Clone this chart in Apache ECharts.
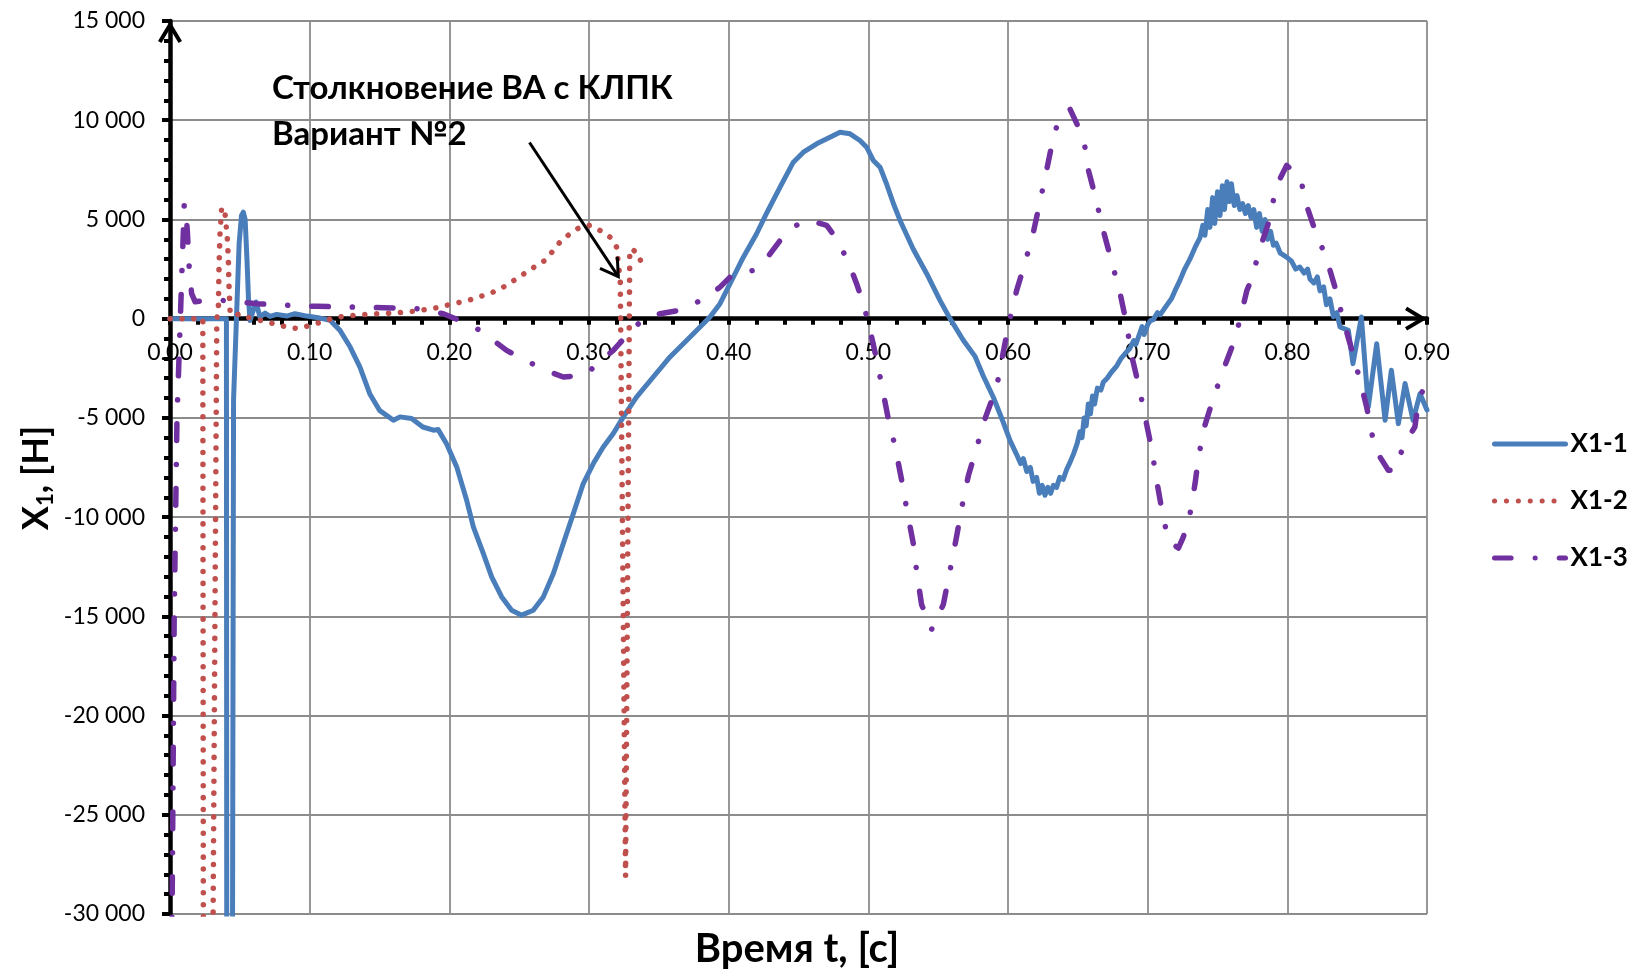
<!DOCTYPE html>
<html>
<head>
<meta charset="utf-8">
<script src="https://cdn.jsdelivr.net/npm/echarts@6/dist/echarts.min.js"></script>
<style>html,body{margin:0;padding:0;background:#fff}#c{width:1631px;height:969px}</style>
</head>
<body>
<div id="c"></div>
<script>
// ---- data (time t [s], force X1 [N]) ----
var seriesNames = ['X1-1', 'X1-2', 'X1-3'];
var xTicks = [0, 0.1, 0.2, 0.3, 0.4, 0.5, 0.6, 0.7, 0.8, 0.9];
var yTicks = [-30000, -25000, -20000, -15000, -10000, -5000, 0, 5000, 10000, 15000];

var X1_1 = [[0,0],[0.0404,0],[0.0407,-40000],[0.0445,-40000],[0.0455,-4100],[0.0495,3800],[0.0512,5200],[0.0525,5370],[0.0538,5000],[0.0551,3000],[0.0562,1000],[0.0573,-90],[0.0616,840],[0.0644,80],[0.068,280],[0.0716,115],[0.0764,215],[0.0835,130],[0.0895,250],[0.0979,130],[0.1074,30],[0.1146,-85],[0.1217,-590],[0.129,-1430],[0.136,-2440],[0.143,-3780],[0.150,-4620],[0.160,-5120],[0.1647,-4950],[0.173,-5035],[0.181,-5460],[0.1886,-5620],[0.192,-5590],[0.198,-6300],[0.2053,-7470],[0.2124,-9150],[0.2172,-10490],[0.2243,-11830],[0.2303,-13010],[0.2375,-14020],[0.2446,-14690],[0.2518,-14940],[0.2601,-14690],[0.2673,-14020],[0.2745,-12840],[0.2816,-11330],[0.2888,-9820],[0.2959,-8310],[0.3031,-7300],[0.3102,-6465],[0.3174,-5790],[0.3246,-4950],[0.334,-3950],[0.346,-2940],[0.358,-1930],[0.3747,-755],[0.3866,80],[0.3938,755],[0.401,1760],[0.4105,3100],[0.42,4280],[0.427,5290],[0.4368,6630],[0.4463,7885],[0.4535,8390],[0.463,8810],[0.4725,9140],[0.4797,9395],[0.4869,9315],[0.494,8980],[0.4988,8640],[0.5036,7970],[0.5084,7635],[0.513,6800],[0.518,5790],[0.5227,4950],[0.5322,3500],[0.5418,2265],[0.5513,920],[0.5585,0],[0.568,-1090],[0.5764,-1900],[0.5823,-2890],[0.5895,-3960],[0.5966,-5220],[0.6014,-6130],[0.6062,-6850],[0.609,-7300],[0.611,-7050],[0.6134,-7700],[0.616,-7500],[0.618,-8200],[0.6205,-8000],[0.6225,-8800],[0.6245,-8400],[0.6265,-8900],[0.6285,-8500],[0.6305,-8800],[0.6325,-8400],[0.6348,-8500],[0.637,-8000],[0.6395,-8100],[0.642,-7600],[0.6444,-7240],[0.647,-6800],[0.6495,-6300],[0.6515,-5700],[0.653,-6000],[0.6545,-5000],[0.656,-5400],[0.6575,-4300],[0.659,-4800],[0.6605,-3900],[0.662,-4300],[0.664,-3500],[0.6665,-3600],[0.6682,-3200],[0.671,-3000],[0.674,-2700],[0.6778,-2390],[0.681,-2000],[0.684,-1750],[0.6873,-1490],[0.69,-1100],[0.6915,-1300],[0.6945,-700],[0.696,-400],[0.6975,-800],[0.70,-300],[0.702,-100],[0.704,-50],[0.707,300],[0.709,200],[0.7136,670],[0.717,1000],[0.7195,1400],[0.7231,1930],[0.7265,2500],[0.7303,3010],[0.734,3600],[0.7375,4090],[0.7395,4700],[0.741,4200],[0.743,5500],[0.7446,4600],[0.7465,6100],[0.748,4800],[0.75,6400],[0.7518,5200],[0.7535,6700],[0.755,5500],[0.7568,6900],[0.7585,5900],[0.76,6800],[0.762,5700],[0.764,6200],[0.766,5500],[0.768,5800],[0.77,5300],[0.772,5700],[0.774,5100],[0.776,5500],[0.778,4600],[0.78,5300],[0.782,4400],[0.784,5000],[0.786,4000],[0.788,4400],[0.79,3700],[0.792,3800],[0.795,3300],[0.7995,3100],[0.803,2900],[0.806,2500],[0.809,2600],[0.812,2300],[0.8145,2500],[0.8162,2000],[0.819,1800],[0.8215,2100],[0.8234,1400],[0.826,1600],[0.828,700],[0.8305,1000],[0.833,100],[0.8355,300],[0.8377,-420],[0.8437,-590],[0.847,-2265],[0.853,80],[0.858,-4450],[0.864,-1260],[0.87,-5120],[0.8745,-2600],[0.8795,-5290],[0.8843,-3270],[0.89,-5120],[0.895,-3780],[0.9,-4600]];

var X1_2 = [[0,0],[0.0235,0],[0.024,-40000],[0.03,-40000],[0.0335,0],[0.0346,420],[0.0351,2600],[0.0358,4280],[0.037,5620],[0.0394,5300],[0.041,4110],[0.0418,2935],[0.0422,1760],[0.043,420],[0.045,130],[0.0501,250],[0.0548,80],[0.0644,-85],[0.074,-250],[0.0835,-420],[0.0919,-500],[0.1002,-340],[0.1086,-170],[0.1158,0],[0.124,115],[0.1325,170],[0.141,215],[0.149,250],[0.1575,280],[0.166,315],[0.174,370],[0.1826,455],[0.1897,535],[0.198,670],[0.2053,790],[0.2136,920],[0.2207,1090],[0.229,1260],[0.235,1460],[0.241,1675],[0.248,2010],[0.2554,2350],[0.2625,2680],[0.2685,2935],[0.2745,3440],[0.2792,3860],[0.2864,4280],[0.2935,4610],[0.3007,4700],[0.3079,4445],[0.315,4110],[0.3198,3600],[0.3224,1900],[0.3262,-28100],[0.3292,3500],[0.3318,3450],[0.3353,3270],[0.3376,2770]];

var X1_3 = [[0.0005,-42000],[0.0015,-30000],[0.003,-15000],[0.005,-5000],[0.0072,-420],[0.0084,2100],[0.0095,4280],[0.0102,5790],[0.0115,5300],[0.0125,4300],[0.0138,2500],[0.0155,1260],[0.018,850],[0.031,960],[0.043,890],[0.062,755],[0.0859,670],[0.105,620],[0.129,585],[0.153,550],[0.1766,500],[0.1957,250],[0.21,-170],[0.222,-590],[0.241,-1600],[0.2566,-2180],[0.272,-2690],[0.2816,-2940],[0.297,-2850],[0.3102,-2010],[0.3174,-1600],[0.3282,-755],[0.339,0],[0.3508,250],[0.3675,455],[0.3843,1090],[0.3938,1590],[0.4034,2265],[0.4177,2430],[0.427,3020],[0.4368,3940],[0.444,4530],[0.4558,4985],[0.4702,4700],[0.4773,4030],[0.4857,2850],[0.4916,1760],[0.4952,1010],[0.5,-170],[0.5048,-1700],[0.5096,-3340],[0.5143,-5050],[0.519,-6400],[0.5238,-8110],[0.5274,-9550],[0.5322,-11340],[0.5345,-12690],[0.5381,-14400],[0.5453,-15660],[0.5537,-14400],[0.5585,-12690],[0.5632,-10980],[0.5668,-9550],[0.5716,-7920],[0.5776,-6490],[0.5835,-5050],[0.5919,-3430],[0.6002,-370],[0.6062,1425],[0.612,2770],[0.618,4300],[0.6229,5890],[0.6277,7500],[0.6324,9120],[0.636,9930],[0.6444,10560],[0.6515,9480],[0.655,8675],[0.6575,7500],[0.6622,6240],[0.6682,4450],[0.673,3190],[0.6802,1300],[0.6837,130],[0.686,-770],[0.6885,-1850],[0.6945,-3650],[0.698,-4900],[0.7028,-6530],[0.7064,-8140],[0.71,-9580],[0.7148,-11200],[0.722,-11560],[0.7255,-11010],[0.7303,-9850],[0.7339,-8320],[0.7363,-7060],[0.7399,-5620],[0.747,-4010],[0.7542,-2570],[0.7625,-1035],[0.7673,310],[0.7709,1390],[0.7745,2020],[0.7804,3540],[0.7864,4800],[0.7923,6700],[0.7995,7720],[0.8067,7300],[0.8103,6800],[0.8138,5700],[0.8198,4450],[0.8281,3020],[0.8341,1590],[0.8401,-85],[0.8449,-1260],[0.852,-3100],[0.8568,-4450],[0.8615,-6130],[0.8663,-6970],[0.8723,-7640],[0.877,-7640],[0.8806,-6880],[0.8854,-6130],[0.8913,-5460],[0.8937,-4280],[0.8986,-3270]];

var annotationText = 'Столкновение ВА с КЛПК\nВариант №2';
var xAxisTitle = 'Время t, [с]';

// ---- chart ----
var FONT = 'Lato';
var chevron = 'path://M0 20 L12 0 L24 20 L20.6 22.1 L12 7.8 L3.4 22.1 Z';
var GRID = {left: 170, right: 204, top: 21, bottom: 55};
function fmtY(v) {
  var s = Math.abs(v).toString().replace(/\B(?=(\d{3})+(?!\d))/g, ' ');
  return (v < 0 ? '-' : '') + s;
}
var chart = echarts.init(document.getElementById('c'), null, {renderer: 'canvas'});
var gridLine = {show: true, lineStyle: {color: '#8c8c8c', width: 1.8}};
var xMin = xTicks[0], xMax = xTicks[xTicks.length - 1];
var yMin = yTicks[0], yMax = yTicks[yTicks.length - 1];
// distance from the bottom of the plot to the zero line, so the tick labels sit under the zero axis
var plotH = 969 - GRID.top - GRID.bottom;
var zeroOffset = plotH * (0 - yMin) / (yMax - yMin);

chart.setOption({
  animation: false,
  backgroundColor: '#fff',
  grid: {left: GRID.left, right: GRID.right, top: GRID.top, bottom: GRID.bottom, outerBoundsMode: 'none'},
  legend: {
    orient: 'vertical', left: 1492, top: 431, padding: 0,
    itemWidth: 71, itemHeight: 24, itemGap: 31,
    data: seriesNames,
    lineStyle: {width: 5},
    itemStyle: {opacity: 0, borderWidth: 0},
    textStyle: {fontFamily: FONT, fontWeight: 'bold', fontSize: 26, color: '#000', lineHeight: 24}
  },
  xAxis: [{
    type: 'value', min: xMin, max: xMax, interval: 0.1,
    axisLine: {show: true, onZero: true, lineStyle: {color: '#000', width: 4.5},
      symbol: ['none', chevron], symbolSize: [24, 22], symbolOffset: [0, -11]},
    axisTick: {show: true, length: 6, lineStyle: {color: '#000', width: 4}},
    minorTick: {show: true, splitNumber: 5, length: 6, lineStyle: {color: '#000', width: 4}},
    axisLabel: {show: false},
    splitLine: gridLine
  }, {
    type: 'value', min: xMin, max: xMax, interval: 0.1, position: 'bottom', offset: -zeroOffset,
    axisLine: {show: false, onZero: false}, axisTick: {show: false}, minorTick: {show: false}, splitLine: {show: false},
    axisLabel: {fontFamily: FONT, fontSize: 23, color: '#000', margin: 22, showMinLabel: true, showMaxLabel: true,
      formatter: function (v) { return v.toFixed(2); }}
  }],
  yAxis: {
    type: 'value', min: yMin, max: yMax, interval: 5000,
    axisLine: {show: true, onZero: false, lineStyle: {color: '#000', width: 4.5},
      symbol: ['none', chevron], symbolSize: [24, 22], symbolOffset: [0, -11]},
    axisTick: {show: true, length: 8, lineStyle: {color: '#000', width: 4}},
    minorTick: {show: true, splitNumber: 5, length: 6, lineStyle: {color: '#000', width: 4}},
    axisLabel: {fontFamily: FONT, fontSize: 23, color: '#000', margin: 25, formatter: fmtY},
    splitLine: gridLine
  },
  series: [
    {name: seriesNames[0], type: 'line', data: X1_1, symbol: 'none', showSymbol: false, xAxisIndex: 0,
      lineStyle: {color: '#4a7ebb', width: 5, cap: 'round', join: 'round'}, itemStyle: {color: '#4a7ebb'}},
    {name: seriesNames[1], type: 'line', data: X1_2, symbol: 'none', showSymbol: false, xAxisIndex: 0,
      lineStyle: {color: '#c0504d', width: 5.5, type: [0.1, 11.8], cap: 'round', join: 'round'}, itemStyle: {color: '#c0504d'}},
    {name: seriesNames[2], type: 'line', data: X1_3, symbol: 'none', showSymbol: false, xAxisIndex: 0,
      lineStyle: {color: '#7030a0', width: 5.5, type: [16.6, 24, 0.1, 24], cap: 'round', join: 'round'}, itemStyle: {color: '#7030a0'}}
  ],
  graphic: [
    {type: 'text', x: 272, y: 111, z: 100,
      style: {text: annotationText, fontFamily: FONT, fontWeight: 'bold', fontSize: 33, lineHeight: 46,
        fill: '#000', align: 'left', verticalAlign: 'middle'}},
    {type: 'line', z: 100, shape: {x1: 529.5, y1: 142.5, x2: 618.3, y2: 276.7},
      style: {stroke: '#000', lineWidth: 3}},
    {type: 'polyline', z: 100, shape: {points: [[600, 268.3], [618.3, 276.7], [617.3, 256.7]]},
      style: {stroke: '#000', lineWidth: 3, fill: null}},
    {type: 'text', x: 797, y: 949, z: 100,
      style: {text: xAxisTitle, fontFamily: FONT, fontWeight: 'bold', fontSize: 40, fill: '#000',
        align: 'center', verticalAlign: 'middle'}},
    {type: 'text', x: 36, y: 478, rotation: Math.PI / 2, z: 100,
      style: {text: '{a|X}{b|1}{a|, [Н]}', align: 'center', verticalAlign: 'middle', fill: '#000',
        rich: {
          a: {fontFamily: FONT, fontWeight: 'bold', fontSize: 36, lineHeight: 42, fill: '#000'},
          b: {fontFamily: FONT, fontWeight: 'bold', fontSize: 22, lineHeight: 22, verticalAlign: 'bottom', fill: '#000'}
        }}}
  ]
});
</script>
</body>
</html>
